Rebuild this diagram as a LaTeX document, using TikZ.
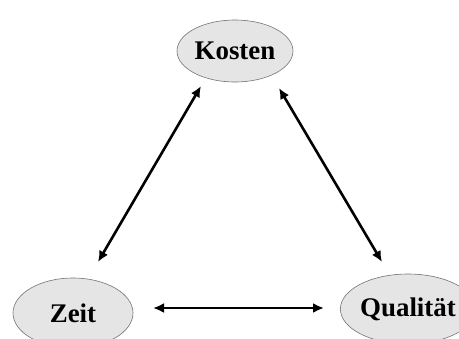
\documentclass[tikz,border=0pt]{standalone}
\usepackage{fontspec}
\setmainfont{Liberation Serif}
\usetikzlibrary{arrows.meta,shapes.geometric}
\begin{document}
\begin{tikzpicture}[x=1bp,y=-1bp,
  topic/.style={ellipse,draw=black!55,line width=0.6bp,fill=black!10,minimum width=116bp,minimum height=62bp,inner sep=0pt,font=\fontsize{27}{32}\selectfont\bfseries},
  link/.style={line width=2.6bp,{Latex[length=11bp,width=10bp]}-{Latex[length=11bp,width=10bp]}}]
\useasboundingbox (0,0) rectangle (459,338);
\node[topic] (k) at (235,51) {Kosten};
\node[topic,minimum width=120bp,minimum height=70bp] (z) at (73,313) {Zeit};
\node[topic,minimum width=120bp,minimum height=70bp] (q) at (408,309) {Qualität};
\coordinate (k1) at (201,86);
\coordinate (z1) at (98,262);
\coordinate (k2) at (279,88);
\coordinate (q1) at (382,262);
\coordinate (z2) at (153,308);
\coordinate (q2) at (324,308);
\draw[link] (k1) -- (z1);
\draw[link] (k2) -- (q1);
\draw[link] (z2) -- (q2);
\end{tikzpicture}
\end{document}
